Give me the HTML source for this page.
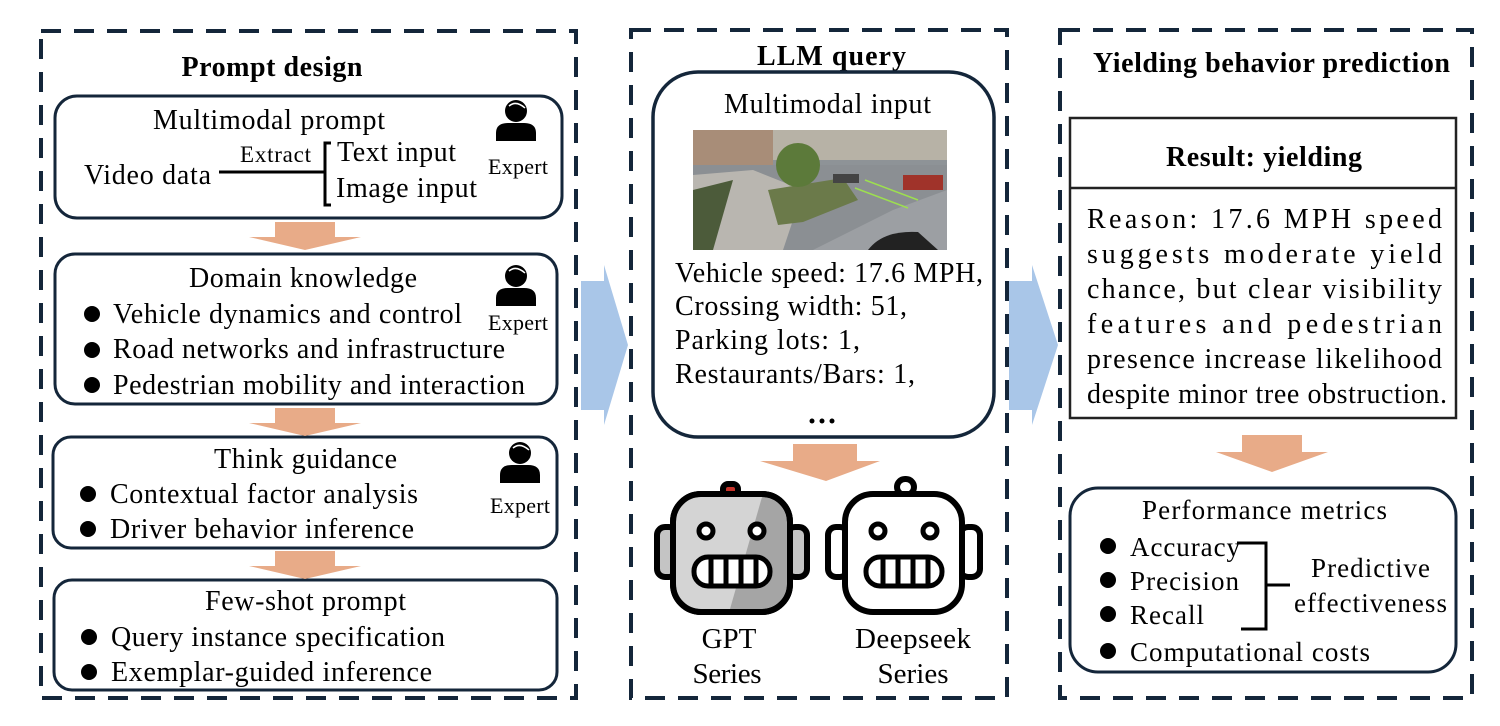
<!DOCTYPE html>
<html><head><meta charset="utf-8"><style>
html,body{margin:0;padding:0;background:#fff;}
svg{display:block;}
text{font-family:"Liberation Serif",serif;fill:#000;}
.b{font-weight:bold;}
</style></head><body>
<svg width="1500" height="726" viewBox="0 0 1500 726" xmlns="http://www.w3.org/2000/svg">
<defs>
<g id="expert">
  <circle cx="0" cy="-14" r="11" fill="#000"/>
  <path d="M-7,-19 Q0,-25 9,-17" stroke="#fff" stroke-width="1.5" fill="none"/>
  <path d="M-20,16 L-20,8 Q-20,-2 -8,-2 L8,-2 Q20,-2 20,8 L20,16 Z" fill="#000"/>
</g>
<g id="oarrow">
  <path d="M-30,0 L30,0 L30,15 L56,15 L0,28 L-56,15 L-30,15 Z" fill="#e8ab88"/>
</g>
</defs>

<g fill="none" stroke="#14263a" stroke-width="4" stroke-dasharray="20,13">
<rect x="41" y="31" width="535" height="667"/>
<rect x="631" y="30" width="376" height="668"/>
<rect x="1060" y="30" width="412" height="668"/>
</g>

<path d="M581,281 L604,281 L604,265 L628,345 L604,425 L604,410 L581,410 Z" fill="#a9c6e8"/>
<path d="M1009,281 L1032,281 L1032,265 L1058,345 L1032,425 L1032,410 L1009,410 Z" fill="#a9c6e8"/>

<!-- LEFT -->
<text x="272" y="76" font-size="28" class="b" text-anchor="middle" textLength="181">Prompt design</text>
<g fill="none" stroke="#14263a" stroke-width="3">
<rect x="55" y="96" width="507" height="122" rx="22"/>
<rect x="55" y="254" width="502" height="150" rx="20"/>
<rect x="53" y="437" width="504" height="111" rx="18"/>
<rect x="54" y="580" width="503" height="110" rx="18"/>
</g>
<use href="#oarrow" x="305" y="222"/>
<use href="#oarrow" x="305" y="408"/>
<use href="#oarrow" x="305" y="551"/>

<text x="153" y="129" font-size="28" textLength="232">Multimodal prompt</text>
<text x="84" y="184" font-size="28" textLength="127">Video data</text>
<text x="240" y="162" font-size="23" textLength="71">Extract</text>
<line x1="219" y1="172" x2="324" y2="172" stroke="#000" stroke-width="3"/>
<path d="M331,143 L325,143 L325,205 L331,205" stroke="#000" stroke-width="3" fill="none"/>
<text x="337" y="161" font-size="28" textLength="119">Text input</text>
<text x="336" y="197" font-size="28" textLength="141">Image input</text>
<use href="#expert" x="516" y="125"/>
<text x="518" y="174" font-size="22" text-anchor="middle" textLength="60">Expert</text>

<text x="189" y="287" font-size="28" textLength="228">Domain knowledge</text>
<use href="#expert" x="516" y="290"/>
<text x="518" y="330" font-size="22" text-anchor="middle" textLength="60">Expert</text>
<g font-size="28">
<circle cx="92" cy="314" r="8" fill="#000"/><text x="113" y="323" textLength="349">Vehicle dynamics and control</text>
<circle cx="92" cy="350" r="8" fill="#000"/><text x="113" y="358" textLength="392">Road networks and infrastructure</text>
<circle cx="92" cy="385" r="8" fill="#000"/><text x="113" y="394" textLength="412">Pedestrian mobility and interaction</text>
</g>

<text x="214" y="468" font-size="28" textLength="183">Think guidance</text>
<use href="#expert" x="520" y="467"/>
<text x="520" y="513" font-size="22" text-anchor="middle" textLength="60">Expert</text>
<g font-size="28">
<circle cx="88" cy="494" r="8" fill="#000"/><text x="110" y="503" textLength="308">Contextual factor analysis</text>
<circle cx="88" cy="529" r="8" fill="#000"/><text x="110" y="538" textLength="304">Driver behavior inference</text>
<text x="205" y="610" textLength="201">Few-shot prompt</text>
<circle cx="89" cy="637" r="8" fill="#000"/><text x="111" y="646" textLength="334">Query instance specification</text>
<circle cx="89" cy="672" r="8" fill="#000"/><text x="111" y="681" textLength="321">Exemplar-guided inference</text>
</g>

<!-- MIDDLE -->
<text x="757" y="65" font-size="28" class="b" textLength="149">LLM query</text>
<rect x="653" y="72" width="341" height="365" rx="45" fill="none" stroke="#14263a" stroke-width="3.5"/>
<text x="724" y="113" font-size="28" textLength="207">Multimodal input</text>
<svg x="693" y="130" width="254" height="120" viewBox="0 0 254 120">
<rect width="254" height="120" fill="#8e9397"/>
<rect width="254" height="30" fill="#b7b2a6"/>
<rect x="0" y="0" width="80" height="35" fill="#a88d78"/>
<rect x="0" y="35" width="254" height="85" fill="#8b8f93"/>
<path d="M0,45 L60,40 L110,60 L90,120 L0,120 Z" fill="#b9b6b0"/>
<path d="M0,60 L40,50 L20,120 L0,120Z" fill="#4c5b3a"/>
<path d="M75,60 L150,48 L165,70 L110,92 L85,95 Z" fill="#6b7a4a"/>
<circle cx="105" cy="35" r="22" fill="#5c7a3a"/>
<path d="M120,120 L200,80 L254,60 L254,120 Z" fill="#9c9fa3"/>
<path d="M175,120 Q190,100 225,102 L245,120 Z" fill="#222"/>
<rect x="210" y="45" width="40" height="15" fill="#a0332a"/>
<path d="M162,58 L215,78 M172,50 L225,70" stroke="#9ddf4f" stroke-width="1.5"/>
<rect x="140" y="44" width="26" height="9" fill="#444"/>
</svg>
<g font-size="28">
<text x="675" y="282" textLength="308">Vehicle speed: 17.6 MPH,</text>
<text x="675" y="315" textLength="232">Crossing width: 51,</text>
<text x="675" y="349" textLength="185">Parking lots: 1,</text>
<text x="675" y="383" textLength="240">Restaurants/Bars: 1,</text>
</g>
<circle cx="812" cy="421" r="2.5" fill="#000"/><circle cx="822" cy="421" r="2.5" fill="#000"/><circle cx="832" cy="421" r="2.5" fill="#000"/>
<path d="M793,444 L857,444 L857,461 L880,461 L826,481 L760,461 L793,461 Z" fill="#e8ab88"/>

<g stroke="#000" stroke-width="6">
<rect x="723" y="484" width="15" height="12" rx="5" fill="#c8332a"/>
<rect x="657" y="527" width="20" height="50" rx="8" fill="#c4c4c4"/>
<rect x="787" y="527" width="20" height="50" rx="8" fill="#c4c4c4"/>
<rect x="673" y="494" width="117" height="118" rx="28" fill="#a5a5a5"/>
<path d="M701,497 L762,497 L730,609 L702,609 Q676,609 676,583 L676,522 Q676,497 701,497Z" fill="#d4d4d4" stroke="none"/>
<rect x="673" y="494" width="117" height="118" rx="28" fill="none"/>
<circle cx="706" cy="531" r="7" fill="#fff" stroke-width="5"/>
<circle cx="757" cy="531" r="7" fill="#fff" stroke-width="5"/>
<rect x="694" y="557" width="76" height="29" rx="14" fill="#fff" stroke-width="5"/>
<path d="M711,559 V584 M726,559 V584 M741,559 V584 M756,559 V584" stroke-width="5"/>
</g>
<g stroke="#000" stroke-width="6" fill="#fff">
<rect x="897" y="479" width="17" height="16" rx="8"/>
<rect x="828" y="527" width="20" height="50" rx="8"/>
<rect x="960" y="527" width="20" height="50" rx="8"/>
<rect x="845" y="494" width="117" height="118" rx="28"/>
<circle cx="878" cy="531" r="7" stroke-width="5"/>
<circle cx="930" cy="531" r="7" stroke-width="5"/>
<rect x="866" y="557" width="76" height="29" rx="14" stroke-width="5"/>
<path d="M883,559 V584 M898,559 V584 M913,559 V584 M928,559 V584" stroke-width="5"/>
</g>
<g font-size="29" text-anchor="middle">
<text x="729" y="648">GPT</text>
<text x="727" y="683" textLength="69">Series</text>
<text x="913" y="648" textLength="116">Deepseek</text>
<text x="913" y="683" textLength="71">Series</text>
</g>

<!-- RIGHT -->
<text x="1093" y="72" font-size="28" class="b" textLength="357">Yielding behavior prediction</text>
<rect x="1070" y="118" width="386" height="300" fill="none" stroke="#222" stroke-width="2.5"/>
<line x1="1070" y1="188" x2="1456" y2="188" stroke="#222" stroke-width="2.5"/>
<text x="1166" y="166" font-size="28" class="b" textLength="196">Result: yielding</text>
<g font-size="28">
<text x="1087" y="228" textLength="355">Reason: 17.6 MPH speed</text>
<text x="1087" y="263" textLength="355">suggests moderate yield</text>
<text x="1087" y="298" textLength="355">chance, but clear visibility</text>
<text x="1087" y="333" textLength="355">features and pedestrian</text>
<text x="1087" y="368" textLength="355">presence increase likelihood</text>
<text x="1087" y="403" textLength="360">despite minor tree obstruction.</text>
</g>
<path d="M1242,435 L1302,435 L1302,452 L1328,452 L1272,472 L1216,452 L1242,452 Z" fill="#e8ab88"/>
<rect x="1070" y="488" width="386" height="184" rx="28" fill="none" stroke="#14263a" stroke-width="3"/>
<g font-size="27">
<text x="1142" y="519" textLength="245">Performance metrics</text>
<circle cx="1108" cy="546" r="8" fill="#000"/><text x="1130" y="556" textLength="110">Accuracy</text>
<circle cx="1108" cy="580" r="8" fill="#000"/><text x="1130" y="590" textLength="109">Precision</text>
<circle cx="1108" cy="614" r="8" fill="#000"/><text x="1130" y="624" textLength="74">Recall</text>
<circle cx="1108" cy="651" r="8" fill="#000"/><text x="1130" y="661" textLength="240">Computational costs</text>
<text x="1311" y="577" textLength="119">Predictive</text>
<text x="1294" y="612" textLength="153">effectiveness</text>
</g>
<path d="M1237,543 L1266,543 L1266,629 L1241,629 M1266,585 L1290,585" stroke="#000" stroke-width="3" fill="none"/>
</svg>
</body></html>
